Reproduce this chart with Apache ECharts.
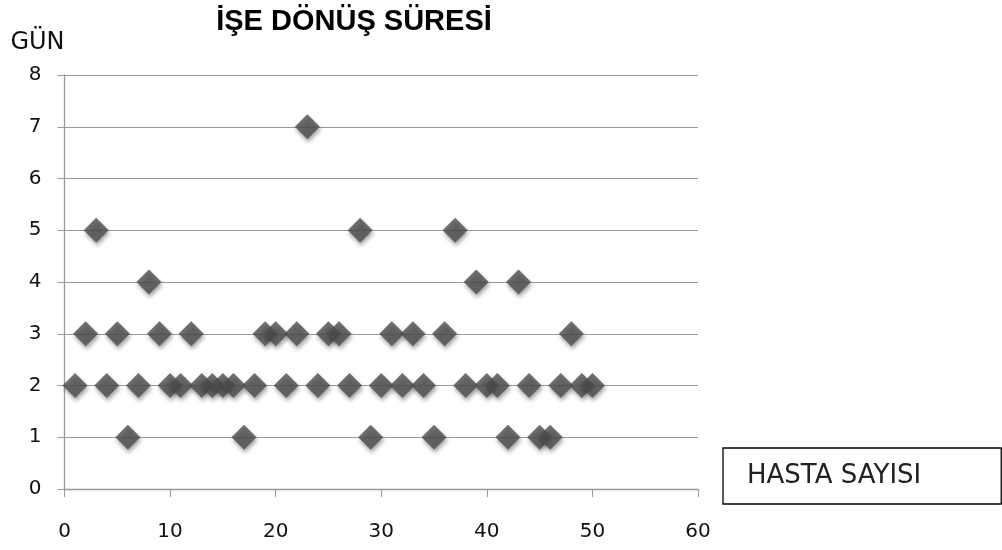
<!DOCTYPE html>
<html>
<head>
<meta charset="utf-8">
<script src="https://cdn.jsdelivr.net/npm/echarts@6/dist/echarts.min.js"></script>
<style>html,body{margin:0;padding:0;background:#fff;}#c{width:1002px;height:550px;}</style>
</head>
<body>
<div id="c"></div>
<script>
const titleText = 'İŞE DÖNÜŞ SÜRESİ';
const yAxisName = 'GÜN';
const seriesName = 'HASTA SAYISI';
const patients = [1,2,3,4,5,6,7,8,9,10,11,12,13,14,15,16,17,18,19,20,21,22,23,24,25,26,27,28,29,30,31,32,33,34,35,36,37,38,39,40,41,42,43,44,45,46,47,48,49,50];
const days = [2,3,5,2,3,1,2,4,3,2,2,3,2,2,2,2,1,2,3,3,2,3,7,2,3,3,2,5,1,2,3,2,3,2,1,3,5,2,4,2,2,1,4,2,1,1,2,3,2,2];
const xTicks = {min:0, max:60, interval:10};
const yTicks = {min:0, max:8, interval:1};

const chart = echarts.init(document.getElementById('c'), null, {renderer:'canvas'});
const font = "'DejaVu Sans', sans-serif";
chart.setOption({
  animation:false,
  backgroundColor:'#fff',
  title:{text:titleText, left:349, top:2, textAlign:'center',
    textStyle:{fontFamily:'Liberation Sans, Arial, sans-serif', fontWeight:'bold', fontSize:29, color:'#000'}},
  legend:{
    left:723, top:448, data:[{name:seriesName, icon:'none'}],
    itemWidth:0, itemHeight:0, itemGap:0,
    padding:[15,80,15,19],
    borderColor:'#000', borderWidth:1.3,
    textStyle:{fontFamily:"'DejaVu Sans', sans-serif", fontSize:26, color:'#222'}
  },
  grid:{left:64.5, right:304, top:75, bottom:61},
  xAxis:{type:'value', min:xTicks.min, max:xTicks.max, interval:xTicks.interval,
    axisLine:{show:true, lineStyle:{color:'#999', width:1.3}},
    axisTick:{show:true, length:8, lineStyle:{color:'#999'}},
    splitLine:{show:false},
    axisLabel:{margin:33, fontFamily:font, fontSize:20, color:'#111'}
  },
  yAxis:{type:'value', min:yTicks.min, max:yTicks.max, interval:yTicks.interval,
    name:yAxisName, nameLocation:'end', nameGap:20,
    nameTextStyle:{align:'right', fontFamily:font, fontSize:24, color:'#111', padding:[0,0,0,0]},
    axisLine:{show:true, lineStyle:{color:'#999', width:1.3}},
    axisTick:{show:true, length:7, lineStyle:{color:'#999'}},
    splitLine:{show:true, lineStyle:{color:'#999', width:1.2}},
    axisLabel:{margin:23, fontFamily:font, fontSize:20, color:'#111'}
  },
  series:[{
    name:seriesName, type:'scatter',
    data:patients.map((p,i)=>[p, days[i]]),
    symbol:'diamond', symbolSize:[25,25],
    itemStyle:{color:'#4d4d4d', shadowBlur:4, shadowColor:'rgba(0,0,0,0.45)', shadowOffsetX:1, shadowOffsetY:3}
  }]
});
</script>
</body>
</html>
